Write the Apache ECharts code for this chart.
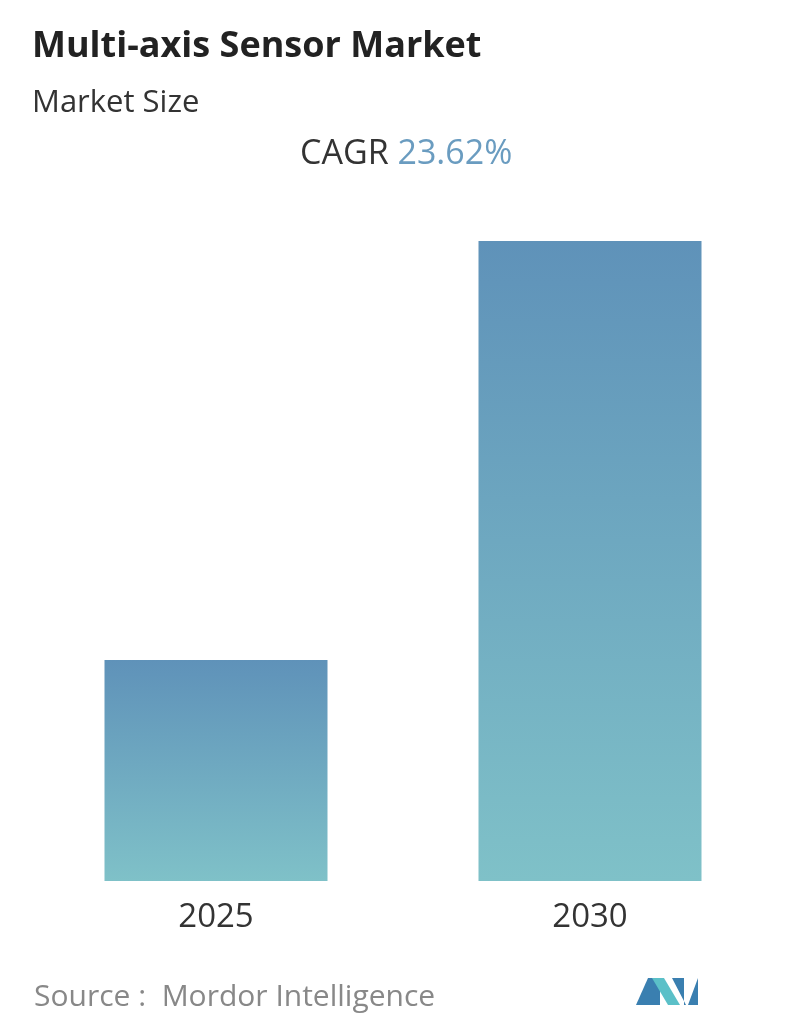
<!DOCTYPE html>
<html><head><meta charset="utf-8">
<script src="https://cdn.jsdelivr.net/npm/echarts@6/dist/echarts.min.js"></script>
<style>html,body{margin:0;padding:0;background:#fff}#c{width:796px;height:1034px}</style>
</head><body><div id="c"></div>
<script>
const categories = ['2025', '2030'];
const values = [2.21, 6.40];
const chart = echarts.init(document.getElementById('c'));
const grad = new echarts.graphic.LinearGradient(0,0,0,1,[{offset:0,color:'#5f92b9'},{offset:1,color:'#7fc1c8'}]);
chart.setOption({
  animation:false,
  grid:{left:29,right:19,top:241,bottom:153},
  xAxis:{type:'category',data:categories,axisLine:{show:false},axisTick:{show:false},
    axisLabel:{fontSize:33,color:'#333',margin:20,fontFamily:'Open Sans'}},
  yAxis:{type:'value',min:0,max:6.4,show:false,splitLine:{show:false}},
  series:[{type:'bar',data:values,barWidth:223,itemStyle:{color:grad}}],
  graphic:[
    {type:'text',left:32,top:29,style:{text:'Multi-axis Sensor Market',fontSize:36,fontWeight:'bold',fill:'#222',fontFamily:'Open Sans'}},
    {type:'text',left:32,top:88,style:{text:'Market Size',fontSize:31,fill:'#333',fontFamily:'Open Sans'}},
    {type:'text',left:300,top:137,style:{rich:{a:{fontSize:34,fill:'#333',fontFamily:'Open Sans'},b:{fontSize:34,fill:'#6a9cc0',fontFamily:'Open Sans'}},text:'{a|CAGR }{b|23.62%}'}},
    {type:'text',left:34,top:982,style:{text:'Source :  Mordor Intelligence',fontSize:30,fill:'#888',fontFamily:'Open Sans'}},
    {type:'polygon',shape:{points:[[636,1005],[648,978],[660,978],[660,1005]]},style:{fill:'#3a7fb0'}},
    {type:'polygon',shape:{points:[[652,978],[664,978],[680,1005],[668,1005]]},style:{fill:'#5bc0c8'}},
    {type:'polygon',shape:{points:[[672,978],[684,978],[684,1005],[688,1005],[698,978],[698,1005],[686,1005]]},style:{fill:'#3a7fb0'}}
  ]
});
</script></body></html>
